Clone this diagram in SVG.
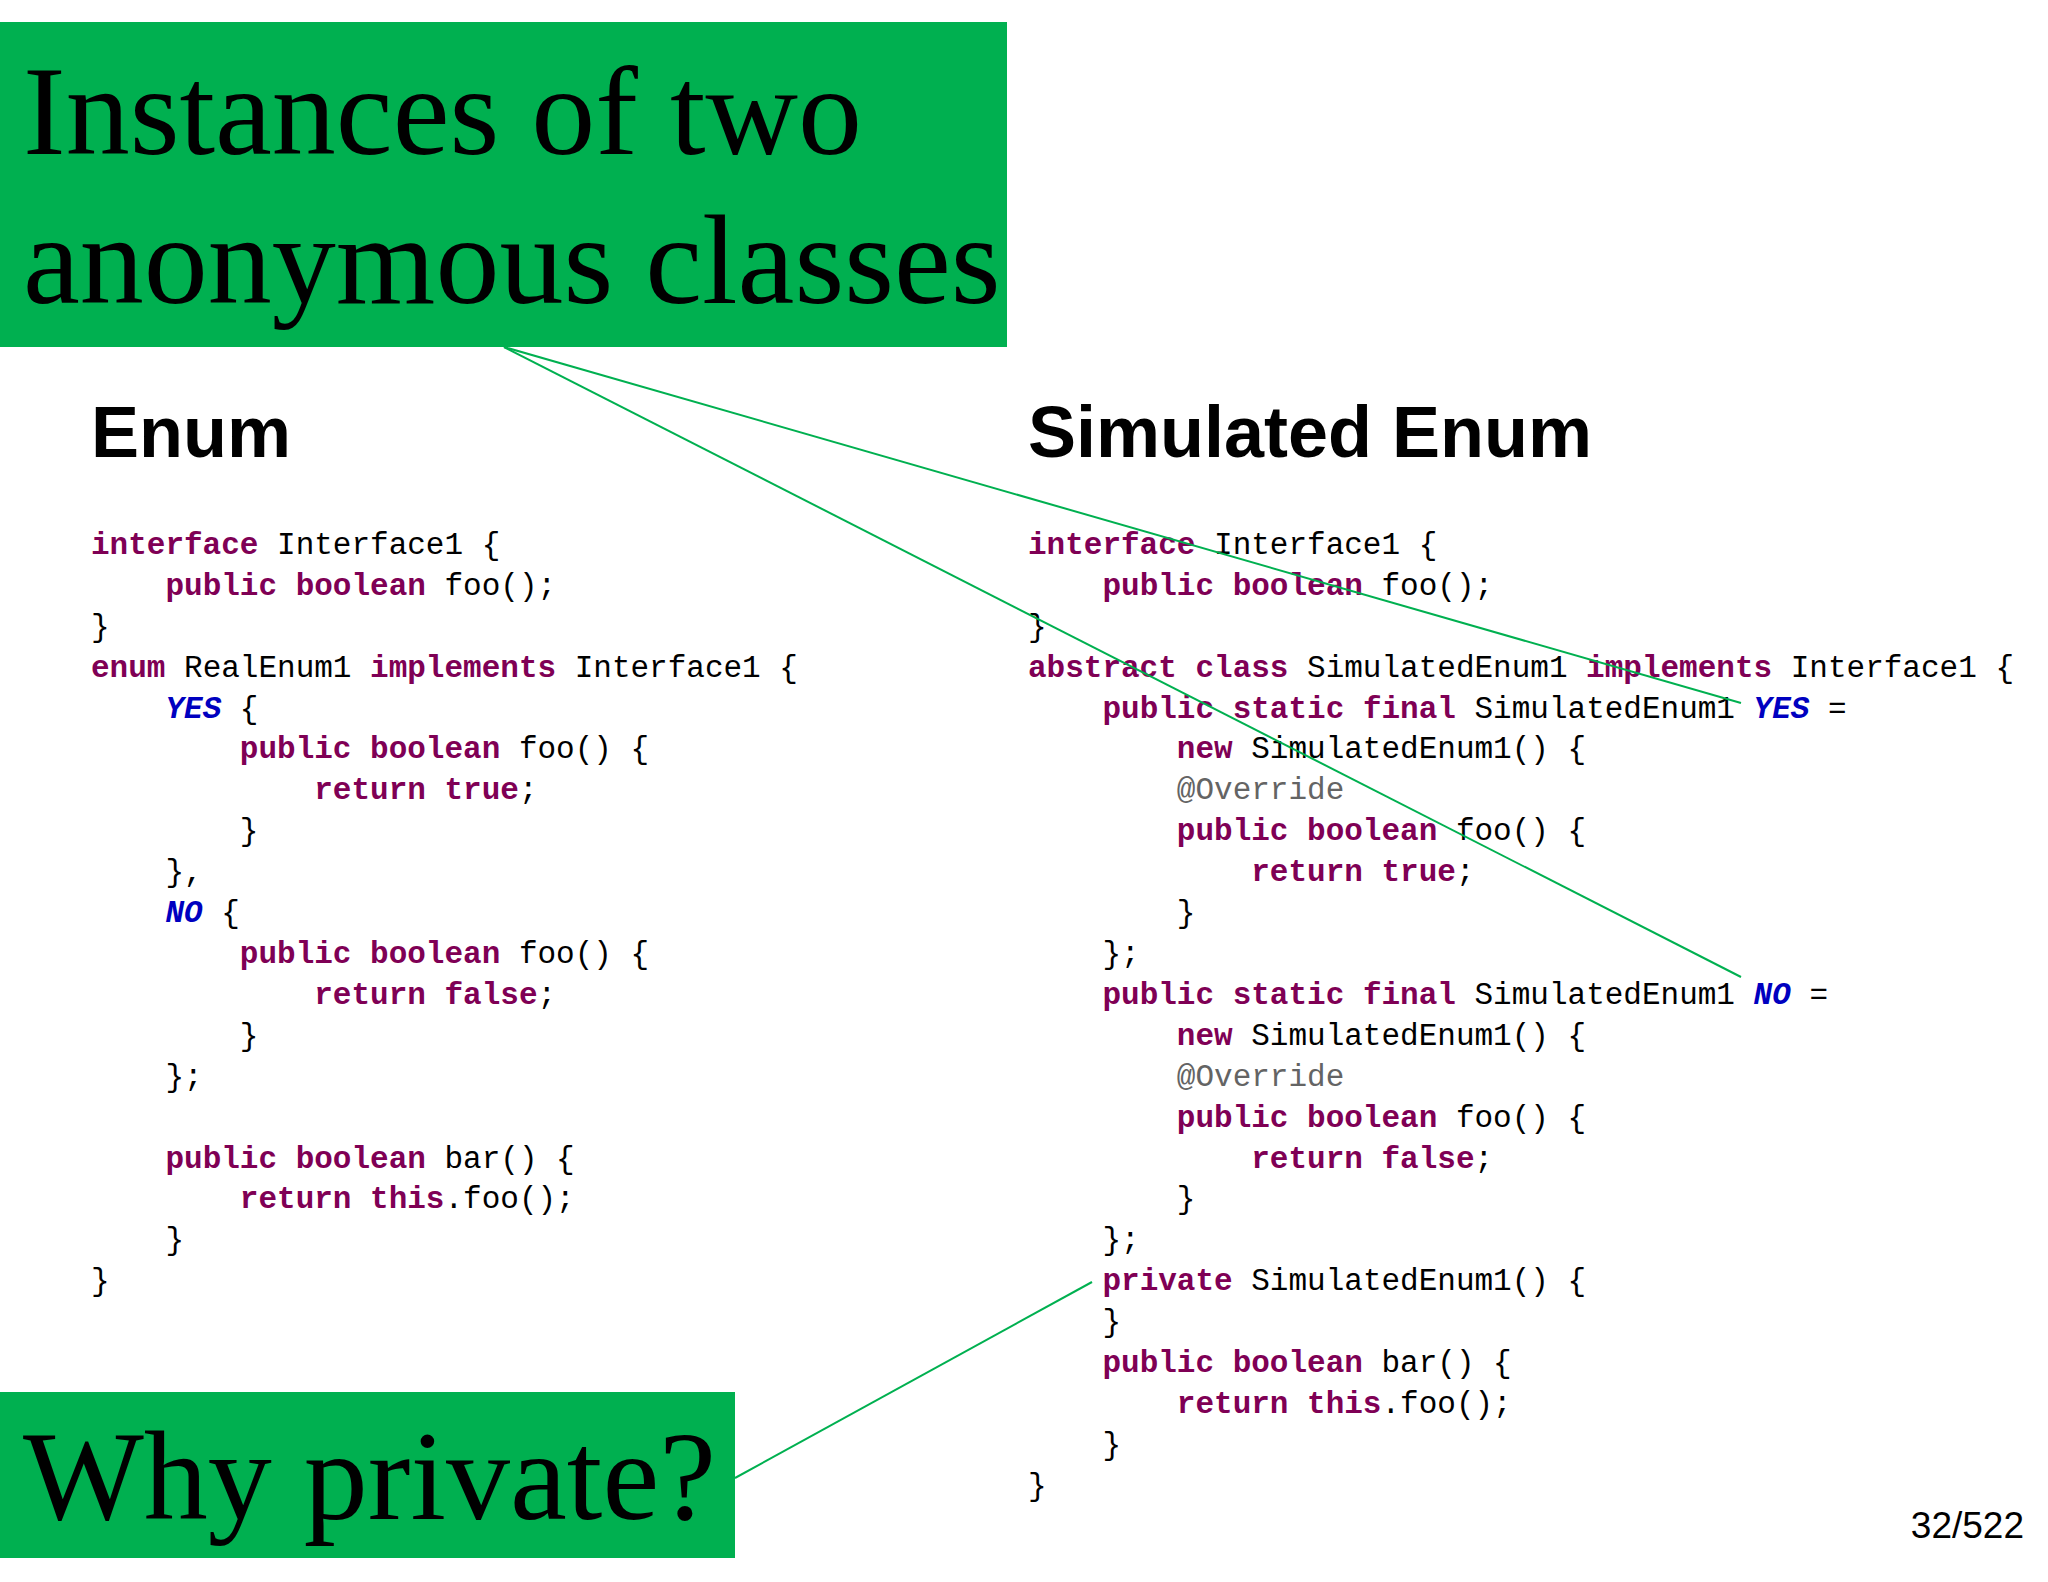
<svg xmlns="http://www.w3.org/2000/svg" width="2048" height="1582" viewBox="0 0 2048 1582">
<style>
.box{fill:#00B050}
.big{font-family:"Liberation Serif",serif;font-size:128px;fill:#000}
.h{font-family:"Liberation Sans",Arial,sans-serif;font-size:72px;font-weight:bold;fill:#000}
.code{font-family:"Liberation Mono",monospace;font-size:31px;fill:#000;white-space:pre}
.k{fill:#7F0055;font-weight:bold}
.c{fill:#0000C0;font-weight:bold;font-style:italic}
.a{fill:#646464}
.ln{stroke:#00B050;stroke-width:2;fill:none}
.pg{font-family:"Liberation Sans",Arial,sans-serif;font-size:37px;fill:#000}
</style>
<rect width="2048" height="1582" fill="#fff"/>
<g id="title">
<rect class="box" x="0" y="22" width="1007" height="325"/>
<text class="big" x="23" y="154">Instances of two</text>
<text class="big" x="23" y="303">anonymous classes</text>
</g>
<g id="why">
<rect class="box" x="0" y="1392" width="735" height="166"/>
<text class="big" x="23" y="1519">Why private?</text>
</g>
<g id="enum">
<text class="h" x="91" y="457">Enum</text>
<text class="code" xml:space="preserve">
<tspan x="91" y="554"><tspan class="k">interface</tspan> Interface1 {</tspan>
<tspan x="91" y="595">    <tspan class="k">public</tspan> <tspan class="k">boolean</tspan> foo();</tspan>
<tspan x="91" y="636">}</tspan>
<tspan x="91" y="677"><tspan class="k">enum</tspan> RealEnum1 <tspan class="k">implements</tspan> Interface1 {</tspan>
<tspan x="91" y="718">    <tspan class="c">YES</tspan> {</tspan>
<tspan x="91" y="758">        <tspan class="k">public</tspan> <tspan class="k">boolean</tspan> foo() {</tspan>
<tspan x="91" y="799">            <tspan class="k">return</tspan> <tspan class="k">true</tspan>;</tspan>
<tspan x="91" y="840">        }</tspan>
<tspan x="91" y="881">    },</tspan>
<tspan x="91" y="922">    <tspan class="c">NO</tspan> {</tspan>
<tspan x="91" y="963">        <tspan class="k">public</tspan> <tspan class="k">boolean</tspan> foo() {</tspan>
<tspan x="91" y="1004">            <tspan class="k">return</tspan> <tspan class="k">false</tspan>;</tspan>
<tspan x="91" y="1045">        }</tspan>
<tspan x="91" y="1086">    };</tspan>
<tspan x="91" y="1168">    <tspan class="k">public</tspan> <tspan class="k">boolean</tspan> bar() {</tspan>
<tspan x="91" y="1208">        <tspan class="k">return</tspan> <tspan class="k">this</tspan>.foo();</tspan>
<tspan x="91" y="1249">    }</tspan>
<tspan x="91" y="1290">}</tspan>
</text>
</g>
<g id="simulated">
<text class="h" x="1028" y="457">Simulated Enum</text>
<text class="code" xml:space="preserve">
<tspan x="1028" y="554"><tspan class="k">interface</tspan> Interface1 {</tspan>
<tspan x="1028" y="595">    <tspan class="k">public</tspan> <tspan class="k">boolean</tspan> foo();</tspan>
<tspan x="1028" y="636">}</tspan>
<tspan x="1028" y="677"><tspan class="k">abstract</tspan> <tspan class="k">class</tspan> SimulatedEnum1 <tspan class="k">implements</tspan> Interface1 {</tspan>
<tspan x="1028" y="718">    <tspan class="k">public</tspan> <tspan class="k">static</tspan> <tspan class="k">final</tspan> SimulatedEnum1 <tspan class="c">YES</tspan> =</tspan>
<tspan x="1028" y="758">        <tspan class="k">new</tspan> SimulatedEnum1() {</tspan>
<tspan x="1028" y="799">        <tspan class="a">@Override</tspan></tspan>
<tspan x="1028" y="840">        <tspan class="k">public</tspan> <tspan class="k">boolean</tspan> foo() {</tspan>
<tspan x="1028" y="881">            <tspan class="k">return</tspan> <tspan class="k">true</tspan>;</tspan>
<tspan x="1028" y="922">        }</tspan>
<tspan x="1028" y="963">    };</tspan>
<tspan x="1028" y="1004">    <tspan class="k">public</tspan> <tspan class="k">static</tspan> <tspan class="k">final</tspan> SimulatedEnum1 <tspan class="c">NO</tspan> =</tspan>
<tspan x="1028" y="1045">        <tspan class="k">new</tspan> SimulatedEnum1() {</tspan>
<tspan x="1028" y="1086">        <tspan class="a">@Override</tspan></tspan>
<tspan x="1028" y="1127">        <tspan class="k">public</tspan> <tspan class="k">boolean</tspan> foo() {</tspan>
<tspan x="1028" y="1168">            <tspan class="k">return</tspan> <tspan class="k">false</tspan>;</tspan>
<tspan x="1028" y="1208">        }</tspan>
<tspan x="1028" y="1249">    };</tspan>
<tspan x="1028" y="1290">    <tspan class="k">private</tspan> SimulatedEnum1() {</tspan>
<tspan x="1028" y="1331">    }</tspan>
<tspan x="1028" y="1372">    <tspan class="k">public</tspan> <tspan class="k">boolean</tspan> bar() {</tspan>
<tspan x="1028" y="1413">        <tspan class="k">return</tspan> <tspan class="k">this</tspan>.foo();</tspan>
<tspan x="1028" y="1454">    }</tspan>
<tspan x="1028" y="1495">}</tspan>
</text>
</g>
<g id="connectors">
<line class="ln" x1="504" y1="347" x2="1741" y2="703"/>
<line class="ln" x1="504" y1="347" x2="1741" y2="977"/>
<line class="ln" x1="735" y1="1478" x2="1092" y2="1282"/>
</g>
<text class="pg" x="2024" y="1538" text-anchor="end">32/522</text>
</svg>
